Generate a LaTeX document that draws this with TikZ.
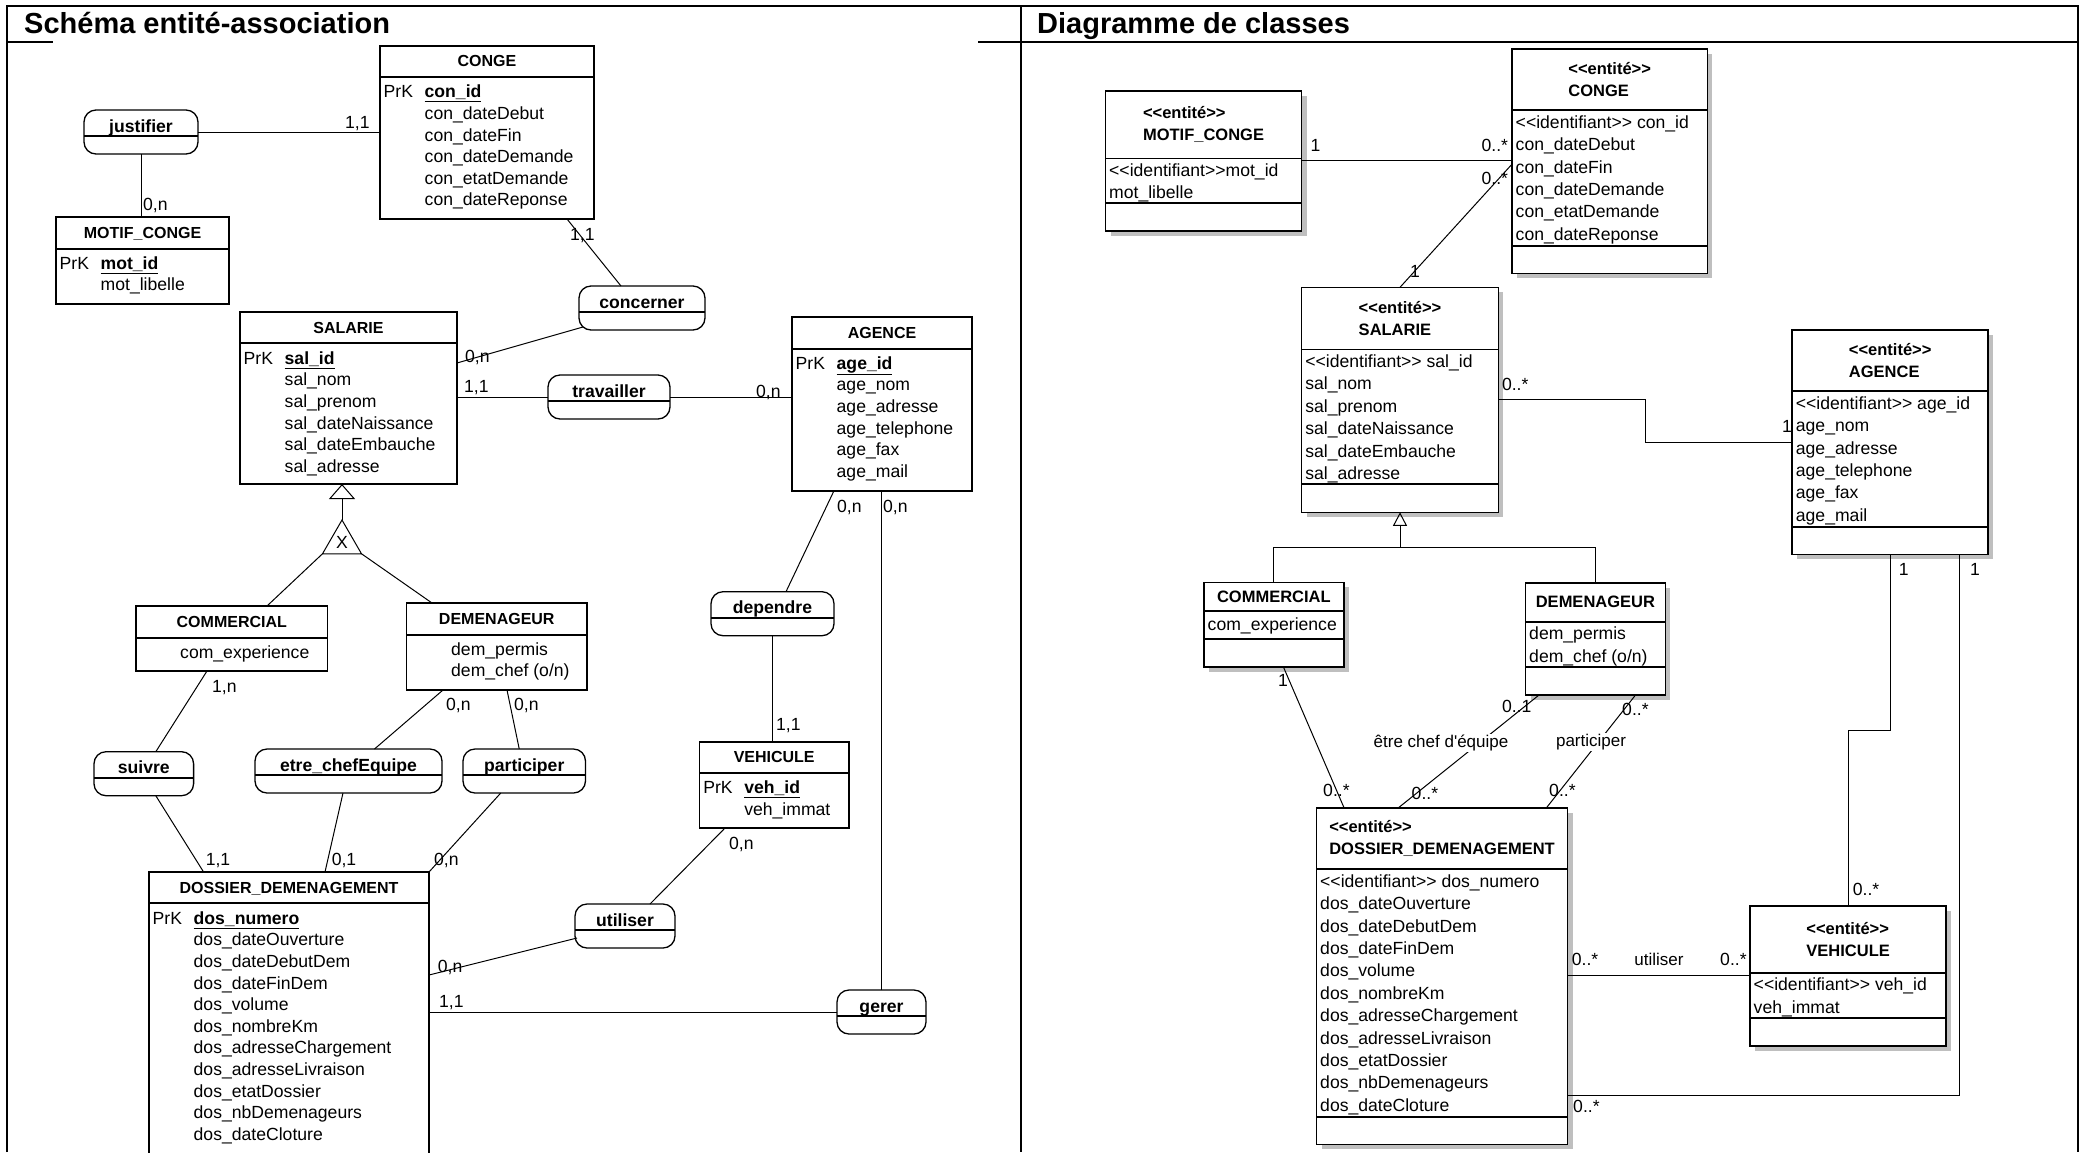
\documentclass[tikz,border=0pt]{standalone}
\usepackage{fontspec}
\setmainfont{Liberation Sans}
\usetikzlibrary{arrows.meta,shapes.geometric,shadows}

\newcommand\fl{\rule{0pt}{16pt}}
\newcommand\prk[1]{\fl\makebox[41pt][l]{PrK}\textbf{\underline{#1}}}
\newcommand\ind{\hspace*{41pt}}
\newcommand\stl{<\kern0pt<}
\newcommand\stg{>\kern0pt>}
\newcommand\ident{\fl\stl identifiant\stg}

\tikzset{
  frame/.style={line width=2.2pt},
  ent/.style={draw, line width=1.6pt, anchor=north west, inner sep=0pt, outer sep=0pt},
  cls/.style={ent, fill=white, drop shadow={shadow xshift=5pt, shadow yshift=-5pt, fill=black!25, opacity=1}},
  asso/.style={draw, line width=1.3pt, rounded corners=12pt, anchor=north, inner sep=0pt, outer sep=0pt, minimum height=44pt},
  sep/.style={line width=1.6pt},
  lnk/.style={line width=1pt},
  ename/.style={anchor=base, inner sep=0pt, font=\bfseries\fontsize{16}{19}\selectfont},
  aname/.style={anchor=base, inner sep=0pt, font=\bfseries\fontsize{17.6}{20}\selectfont},
  attrs/.style={anchor=north west, align=left, inner sep=0pt, font=\fontsize{17.6}{21.6}\selectfont},
  cattrs/.style={attrs, font=\fontsize{17.6}{22.4}\selectfont},
  cname/.style={align=left, inner sep=0pt, font=\bfseries\fontsize{16.5}{22}\selectfont},
  card/.style={anchor=base west, inner sep=0pt, font=\fontsize{17.6}{20}\selectfont},
  role/.style={inner sep=1pt, fill=white, font=\fontsize{17}{20}\selectfont},
  title/.style={anchor=base west, inner sep=0pt, font=\bfseries\fontsize{29}{34}\selectfont},
}

\begin{document}
\begin{tikzpicture}[x=1pt,y=-1pt]
  \useasboundingbox (0,0) rectangle (2084,1152);
  % cadre
  \draw[frame] (7,1152) -- (7,6) -- (2078,6) -- (2078,1152);
  \draw[frame] (1021,6) -- (1021,1152);
  \draw[frame] (7,42) -- (53,42);
  \draw[frame] (978,42) -- (2078,42);
  \node[title] (titre-ea) at (24,33) {Schéma entité-association};
  \node[title] (titre-cl) at (1037,33) {Diagramme de classes};

  % schema entite-association
  \node[ent, minimum width=214, minimum height=173.3] (conge) at (380,45.7) {};
  \draw[sep] ([yshift=-31pt]conge.north west) -- ([yshift=-31pt]conge.north east);
  \node[ename] (conge-n) at ([yshift=-21pt]conge.north) {CONGE};
  \node[attrs] (conge-a) at ([xshift=3.5pt,yshift=-36pt]conge.north west)
    {\prk{con\_id}\\ \ind con\_dateDebut\\ \ind con\_dateFin\\ \ind con\_dateDemande\\ \ind con\_etatDemande\\ \ind con\_dateReponse};

  \node[ent, minimum width=173, minimum height=87] (motif) at (56,217) {};
  \draw[sep] ([yshift=-32pt]motif.north west) -- ([yshift=-32pt]motif.north east);
  \node[ename] (motif-n) at ([yshift=-21pt]motif.north) {MOTIF\_CONGE};
  \node[attrs] (motif-a) at ([xshift=3.5pt,yshift=-36pt]motif.north west)
    {\prk{mot\_id}\\ \ind mot\_libelle};

  \node[ent, minimum width=217, minimum height=172] (salarie) at (240,312) {};
  \draw[sep] ([yshift=-30.7pt]salarie.north west) -- ([yshift=-30.7pt]salarie.north east);
  \node[ename] (salarie-n) at ([yshift=-21pt]salarie.north) {SALARIE};
  \node[attrs] (salarie-a) at ([xshift=3.5pt,yshift=-36pt]salarie.north west)
    {\prk{sal\_id}\\ \ind sal\_nom\\ \ind sal\_prenom\\ \ind sal\_dateNaissance\\ \ind sal\_dateEmbauche\\ \ind sal\_adresse};

  \node[ent, minimum width=180, minimum height=173.7] (agence) at (792,317) {};
  \draw[sep] ([yshift=-32pt]agence.north west) -- ([yshift=-32pt]agence.north east);
  \node[ename] (agence-n) at ([yshift=-21pt]agence.north) {AGENCE};
  \node[attrs] (agence-a) at ([xshift=3.5pt,yshift=-36pt]agence.north west)
    {\prk{age\_id}\\ \ind age\_nom\\ \ind age\_adresse\\ \ind age\_telephone\\ \ind age\_fax\\ \ind age\_mail};

  \node[ent, minimum width=191.6, minimum height=65] (commercial) at (136,606) {};
  \draw[sep] ([yshift=-32pt]commercial.north west) -- ([yshift=-32pt]commercial.north east);
  \node[ename] (commercial-n) at ([yshift=-21pt]commercial.north) {COMMERCIAL};
  \node[attrs] (commercial-a) at ([xshift=44pt,yshift=-36pt]commercial.north west) {\fl com\_experience};

  \node[ent, minimum width=180.5, minimum height=87] (demenageur) at (406.5,603) {};
  \draw[sep] ([yshift=-32pt]demenageur.north west) -- ([yshift=-32pt]demenageur.north east);
  \node[ename] (demenageur-n) at ([yshift=-21pt]demenageur.north) {DEMENAGEUR};
  \node[attrs] (demenageur-a) at ([xshift=44.5pt,yshift=-36pt]demenageur.north west)
    {\fl dem\_permis\\ dem\_chef (o/n)};

  \node[ent, minimum width=149.2, minimum height=86.3] (vehicule) at (699.6,741.7) {};
  \draw[sep] ([yshift=-31.3pt]vehicule.north west) -- ([yshift=-31.3pt]vehicule.north east);
  \node[ename] (vehicule-n) at ([yshift=-21pt]vehicule.north) {VEHICULE};
  \node[attrs] (vehicule-a) at ([xshift=3.5pt,yshift=-36pt]vehicule.north west)
    {\prk{veh\_id}\\ \ind veh\_immat};

  \node[ent, minimum width=280, minimum height=300] (dossier) at (149,872) {};
  \draw[sep] ([yshift=-31pt]dossier.north west) -- ([yshift=-31pt]dossier.north east);
  \node[ename] (dossier-n) at ([yshift=-21pt]dossier.north) {DOSSIER\_DEMENAGEMENT};
  \node[attrs] (dossier-a) at ([xshift=3.5pt,yshift=-36pt]dossier.north west)
    {\prk{dos\_numero}\\ \ind dos\_dateOuverture\\ \ind dos\_dateDebutDem\\ \ind dos\_dateFinDem\\ \ind dos\_volume\\ \ind dos\_nombreKm\\ \ind dos\_adresseChargement\\ \ind dos\_adresseLivraison\\ \ind dos\_etatDossier\\ \ind dos\_nbDemenageurs\\ \ind dos\_dateCloture};

  % associations
  \node[asso, minimum width=114] (justifier) at (141,110) {};
  \node[asso, minimum width=126] (concerner) at (642,286) {};
  \node[asso, minimum width=122] (travailler) at (609,375) {};
  \node[asso, minimum width=123] (dependre) at (772.5,591.7) {};
  \node[asso, minimum width=99.6] (suivre) at (143.8,751.7) {};
  \node[asso, minimum width=187] (etre) at (348.5,749) {};
  \node[asso, minimum width=122.5] (participer) at (524.25,749) {};
  \node[asso, minimum width=100] (utiliser) at (625,904) {};
  \node[asso, minimum width=89] (gerer) at (881.5,990) {};
  \foreach \a in {justifier,concerner,travailler,dependre,suivre,etre,participer,utiliser,gerer}
    \draw[sep] ([yshift=-26pt]\a.north west) -- ([yshift=-26pt]\a.north east);
  \node[aname] (justifier-n) at ([yshift=-22pt]justifier.north) {justifier};
  \node[aname] (concerner-n) at ([yshift=-22pt]concerner.north) {concerner};
  \node[aname] (travailler-n) at ([yshift=-22pt]travailler.north) {travailler};
  \node[aname] (dependre-n) at ([yshift=-22pt]dependre.north) {dependre};
  \node[aname] (suivre-n) at ([yshift=-22pt]suivre.north) {suivre};
  \node[aname] (etre-n) at ([yshift=-22pt]etre.north) {etre\_chefEquipe};
  \node[aname] (participer-n) at ([yshift=-22pt]participer.north) {participer};
  \node[aname] (utiliser-n) at ([yshift=-22pt]utiliser.north) {utiliser};
  \node[aname] (gerer-n) at ([yshift=-22pt]gerer.north) {gerer};

  \node[lnk, draw, regular polygon, regular polygon sides=3, minimum size=45pt, inner sep=0pt, outer sep=0pt,
    font=\fontsize{17.6}{20}\selectfont] (excl) at (342,542.5) {X};

  \draw[lnk] (justifier.east) -- (justifier.east -| conge.west);
  \draw[lnk] (justifier.south) -- (justifier.south |- motif.north);
  \draw[lnk] ([xshift=80pt]conge.south) -- ([xshift=-21pt]concerner.north);
  \draw[lnk] ([yshift=-51pt]salarie.north east) -- ([xshift=4pt,yshift=-41pt]concerner.north west);
  \draw[lnk] (travailler.west) -- (travailler.west -| salarie.east);
  \draw[lnk] (travailler.east) -- (travailler.east -| agence.west);
  \draw[lnk] ([xshift=-48pt]agence.south) -- ([xshift=13.5pt]dependre.north);
  \draw[lnk] (gerer.north) -- (gerer.north |- agence.south);
  \draw[lnk] (dependre.south) -- (dependre.south |- vehicule.north);
  \draw[lnk, -{Triangle[open, length=15pt, width=26pt]}] (excl.north) -- (excl.north |- salarie.south);
  \draw[lnk] (excl.corner 2) -- ([xshift=131pt]commercial.north west);
  \draw[lnk] (excl.corner 3) -- ([xshift=25.5pt]demenageur.north west);
  \draw[lnk] ([xshift=71pt]commercial.south west) -- ([xshift=12pt]suivre.north);
  \draw[lnk] ([xshift=36.5pt]demenageur.south west) -- ([xshift=26pt]etre.north);
  \draw[lnk] ([xshift=100.5pt]demenageur.south west) -- ([xshift=-5pt]participer.north);
  \draw[lnk] ([xshift=12pt]suivre.south) -- ([xshift=54.6pt]dossier.north west);
  \draw[lnk] ([xshift=-5.5pt]etre.south) -- ([xshift=176pt]dossier.north west);
  \draw[lnk] ([xshift=-23.5pt]participer.south) -- (dossier.north east);
  \draw[lnk] ([xshift=25.4pt]vehicule.south west) -- ([xshift=25pt]utiliser.north);
  \draw[lnk] ([xshift=2pt,yshift=-34pt]utiliser.north west) -- ([yshift=-103pt]dossier.north east);
  \draw[lnk] (gerer.west) -- (gerer.west -| dossier.east);

  \node[card] (c-jc) at (345,128.5) {1,1};
  \node[card] (c-jm) at (143,210.5) {0,n};
  \node[card] (c-cc) at (570,240.5) {1,1};
  \node[card] (c-sc) at (465,362.5) {0,n};
  \node[card] (c-st) at (464,392.5) {1,1};
  \node[card] (c-ta) at (756,397) {0,n};
  \node[card] (c-ad) at (837,512) {0,n};
  \node[card] (c-ag) at (883,512) {0,n};
  \node[card] (c-dv) at (776,730.5) {1,1};
  \node[card] (c-cs) at (212,692) {1,n};
  \node[card] (c-de) at (446,710.5) {0,n};
  \node[card] (c-dp) at (514,710.5) {0,n};
  \node[card] (c-sd) at (205.6,865.5) {1,1};
  \node[card] (c-ed) at (331.6,865.5) {0,1};
  \node[card] (c-pd) at (434,865.5) {0,n};
  \node[card] (c-vu) at (729,849.5) {0,n};
  \node[card] (c-ud) at (437.7,972) {0,n};
  \node[card] (c-dg) at (439,1007) {1,1};

  % diagramme de classes
  \node[cls, minimum width=196, minimum height=140.3] (cmotif) at (1105.5,90.7) {};
  \draw[sep] ([yshift=-67.6pt]cmotif.north west) -- ([yshift=-67.6pt]cmotif.north east);
  \draw[sep] ([yshift=-112pt]cmotif.north west) -- ([yshift=-112pt]cmotif.north east);
  \node[cname] (cmotif-n) at ([yshift=-33.8pt]cmotif.north) {\stl entité\stg\\MOTIF\_CONGE};
  \node[cattrs] (cmotif-a) at ([xshift=3.5pt,yshift=-69.6pt]cmotif.north west) {\ident mot\_id\\ mot\_libelle};

  \node[cls, minimum width=195.4, minimum height=224.3] (cconge) at (1512,49) {};
  \draw[sep] ([yshift=-61pt]cconge.north west) -- ([yshift=-61pt]cconge.north east);
  \draw[sep] ([yshift=-196.7pt]cconge.north west) -- ([yshift=-196.7pt]cconge.north east);
  \node[cname] (cconge-n) at ([yshift=-30.5pt]cconge.north) {\stl entité\stg\\CONGE};
  \node[cattrs] (cconge-a) at ([xshift=3.5pt,yshift=-63pt]cconge.north west)
    {\ident{} con\_id\\ con\_dateDebut\\ con\_dateFin\\ con\_dateDemande\\ con\_etatDemande\\ con\_dateReponse};

  \node[cls, minimum width=196.8, minimum height=225] (csalarie) at (1301.6,287.3) {};
  \draw[sep] ([yshift=-62pt]csalarie.north west) -- ([yshift=-62pt]csalarie.north east);
  \draw[sep] ([yshift=-196.7pt]csalarie.north west) -- ([yshift=-196.7pt]csalarie.north east);
  \node[cname] (csalarie-n) at ([yshift=-31pt]csalarie.north) {\stl entité\stg\\SALARIE};
  \node[cattrs] (csalarie-a) at ([xshift=3.5pt,yshift=-64pt]csalarie.north west)
    {\ident{} sal\_id\\ sal\_nom\\ sal\_prenom\\ sal\_dateNaissance\\ sal\_dateEmbauche\\ sal\_adresse};

  \node[cls, minimum width=196, minimum height=224.3] (cagence) at (1792.2,330) {};
  \draw[sep] ([yshift=-61pt]cagence.north west) -- ([yshift=-61pt]cagence.north east);
  \draw[sep] ([yshift=-196.7pt]cagence.north west) -- ([yshift=-196.7pt]cagence.north east);
  \node[cname] (cagence-n) at ([yshift=-30.5pt]cagence.north) {\stl entité\stg\\AGENCE};
  \node[cattrs] (cagence-a) at ([xshift=3.5pt,yshift=-63pt]cagence.north west)
    {\ident{} age\_id\\ age\_nom\\ age\_adresse\\ age\_telephone\\ age\_fax\\ age\_mail};

  \node[cls, minimum width=139.7, minimum height=84.4] (ccommercial) at (1204,582.3) {};
  \draw[sep] ([yshift=-28.7pt]ccommercial.north west) -- ([yshift=-28.7pt]ccommercial.north east);
  \draw[sep] ([yshift=-56.7pt]ccommercial.north west) -- ([yshift=-56.7pt]ccommercial.north east);
  \node[cname] (ccommercial-n) at ([yshift=-14.35pt]ccommercial.north) {COMMERCIAL};
  \node[cattrs] (ccommercial-a) at ([xshift=3.5pt,yshift=-32pt]ccommercial.north west) {\fl com\_experience};

  \node[cls, minimum width=139.8, minimum height=112.3] (cdemenageur) at (1525.5,582.7) {};
  \draw[sep] ([yshift=-39pt]cdemenageur.north west) -- ([yshift=-39pt]cdemenageur.north east);
  \draw[sep] ([yshift=-84pt]cdemenageur.north west) -- ([yshift=-84pt]cdemenageur.north east);
  \node[cname] (cdemenageur-n) at ([yshift=-19.5pt]cdemenageur.north) {DEMENAGEUR};
  \node[cattrs] (cdemenageur-a) at ([xshift=3.5pt,yshift=-41pt]cdemenageur.north west)
    {\fl dem\_permis\\ dem\_chef (o/n)};

  \node[cls, minimum width=251, minimum height=336.6] (cdossier) at (1316.5,807.7) {};
  \draw[sep] ([yshift=-61.3pt]cdossier.north west) -- ([yshift=-61.3pt]cdossier.north east);
  \draw[sep] ([yshift=-309pt]cdossier.north west) -- ([yshift=-309pt]cdossier.north east);
  \node[cname] (cdossier-n) at ([yshift=-30.65pt]cdossier.north) {\stl entité\stg\\DOSSIER\_DEMENAGEMENT};
  \node[cattrs] (cdossier-a) at ([xshift=3.5pt,yshift=-63.3pt]cdossier.north west)
    {\ident{} dos\_numero\\ dos\_dateOuverture\\ dos\_dateDebutDem\\ dos\_dateFinDem\\ dos\_volume\\ dos\_nombreKm\\ dos\_adresseChargement\\ dos\_adresseLivraison\\ dos\_etatDossier\\ dos\_nbDemenageurs\\ dos\_dateCloture};

  \node[cls, minimum width=196.2, minimum height=140.3] (cvehicule) at (1750,905.7) {};
  \draw[sep] ([yshift=-67pt]cvehicule.north west) -- ([yshift=-67pt]cvehicule.north east);
  \draw[sep] ([yshift=-112pt]cvehicule.north west) -- ([yshift=-112pt]cvehicule.north east);
  \node[cname] (cvehicule-n) at ([yshift=-33.5pt]cvehicule.north) {\stl entité\stg\\VEHICULE};
  \node[cattrs] (cvehicule-a) at ([xshift=3.5pt,yshift=-69pt]cvehicule.north west) {\ident{} veh\_id\\ veh\_immat};

  \draw[lnk] (cmotif.east) -- (cmotif.east -| cconge.west);
  \draw[lnk] (csalarie.north) -- ([yshift=-3pt]cconge.west);
  \draw[lnk] (csalarie.east) -- ++(146.6,0) |- (cagence.west);
  \coordinate (gbar) at ([yshift=35pt]ccommercial.north);
  \draw[lnk] (ccommercial.north) -- (gbar) -| (cdemenageur.north);
  \draw[lnk, -{Triangle[open, length=13.5pt, width=14pt]}] (gbar -| csalarie.south) -- (csalarie.south);
  \draw[lnk] ([xshift=79.3pt]ccommercial.south west) -- ([xshift=27.5pt]cdossier.north west);
  \draw[lnk] ([xshift=13.5pt]cdemenageur.south west) -- ([xshift=82pt]cdossier.north west);
  \draw[lnk] ([xshift=110pt]cdemenageur.south west) -- ([xshift=230pt]cdossier.north west);
  \draw[lnk] (cvehicule.west) -- (cvehicule.west -| cdossier.east);
  \draw[lnk] (cagence.south) -- ++(0,175.7) -| (cvehicule.north);
  \draw[lnk] ([xshift=69.6pt]cagence.south) |- ([yshift=-287.3pt]cdossier.north east);

  \node[role] (r-chef) at (1441,743.3) {être chef d\textquotesingle équipe};
  \node[role] (r-part) at (1591,741.7) {participer};
  \node[role, anchor=base, inner sep=0pt] (r-util) at (1659,965.5) {utiliser};

  \node[card] (k-mc1) at (1310.4,151.5) {1};
  \node[card] (k-mc2) at (1481.4,151.5) {0..*};
  \node[card] (k-sc2) at (1481.4,184.5) {0..*};
  \node[card] (k-sc1) at (1410,277) {1};
  \node[card] (k-sa2) at (1501.8,390.5) {0..*};
  \node[card] (k-sa1) at (1782,432) {1};
  \node[card] (k-cd1) at (1278,686.5) {1};
  \node[card] (k-cd2) at (1323,796) {0..*};
  \node[card] (k-ed1) at (1501.8,712) {0..1};
  \node[card] (k-ed2) at (1411.5,799) {0..*};
  \node[card] (k-pd1) at (1622,715.5) {0..*};
  \node[card] (k-pd2) at (1549,796.5) {0..*};
  \node[card] (k-dv1) at (1571.7,965.5) {0..*};
  \node[card] (k-dv2) at (1720,965.5) {0..*};
  \node[card] (k-av1) at (1898.7,575.5) {1};
  \node[card] (k-av2) at (1852.6,895.5) {0..*};
  \node[card] (k-ad1) at (1970,575.5) {1};
  \node[card] (k-ad2) at (1573,1112) {0..*};
\end{tikzpicture}
\end{document}
